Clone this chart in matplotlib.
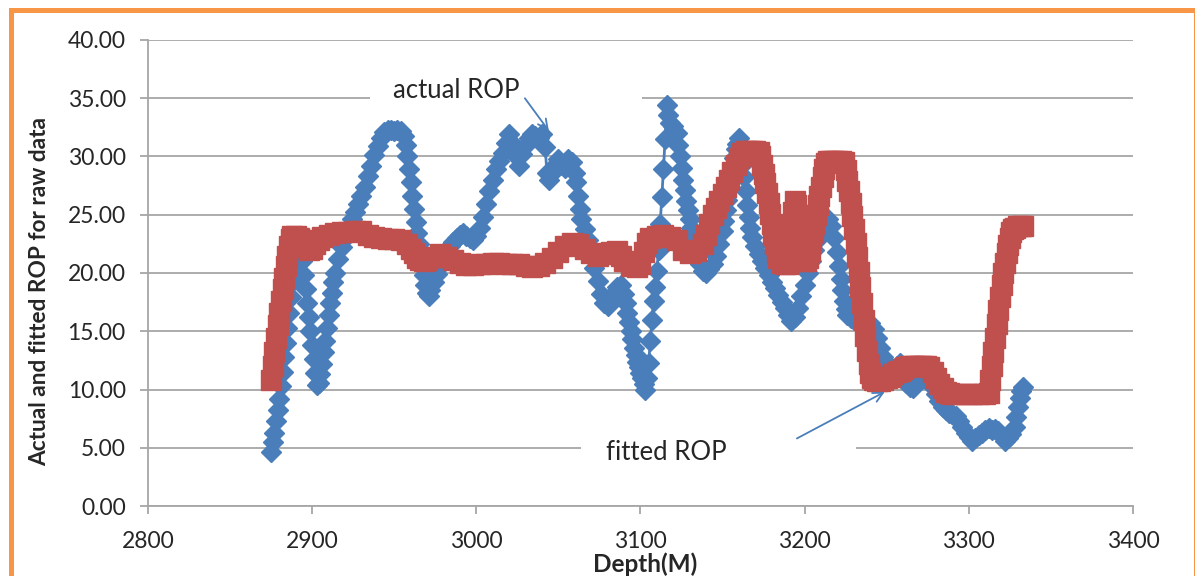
import matplotlib.pyplot as plt
from matplotlib.patches import Rectangle

plt.rcParams['font.family'] = ['Lato', 'DejaVu Sans']

# (depth in m, rate of penetration) read along the logged interval
actual_rop = [
    (2875, 4.6), (2876, 5.5), (2877, 6.3), (2878, 7.3), (2879, 8.2), (2880, 9.2),
    (2881, 10.3), (2882, 11.5), (2883, 12.8), (2884, 14.0), (2885, 15.3), (2886, 16.6),
    (2887, 17.9), (2888, 19.2), (2889, 20.5), (2890, 21.6), (2891, 22.5), (2892, 22.8),
    (2893, 22.3), (2894, 21.0), (2895, 19.8), (2896, 18.6), (2897, 17.4), (2898, 16.2),
    (2899, 15.0), (2900, 13.8), (2901, 12.6), (2902, 11.4), (2903, 10.4), (2904, 10.6),
    (2905, 11.3), (2906, 12.2), (2907, 13.2), (2908, 14.2), (2909, 15.3), (2910, 16.4),
    (2911, 17.4), (2912, 18.3), (2913, 19.2), (2914, 20.0), (2916, 21.2), (2918, 22.2),
    (2920, 23.0), (2922, 23.8), (2924, 24.6), (2926, 25.2), (2928, 25.9), (2930, 26.6),
    (2932, 27.4), (2934, 28.3), (2936, 29.2), (2938, 30.1), (2940, 30.9), (2942, 31.6),
    (2944, 32.1), (2946, 32.3), (2948, 32.3), (2950, 32.2), (2952, 32.3), (2954, 32.2),
    (2956, 31.8), (2957, 31.0), (2958, 30.0), (2959, 28.9), (2960, 27.8), (2961, 26.6),
    (2962, 25.5), (2963, 24.4), (2964, 23.4), (2965, 22.5), (2966, 21.6), (2967, 20.7),
    (2968, 19.8), (2969, 19.0), (2970, 18.3), (2971, 18.0), (2972, 18.5), (2974, 19.2),
    (2976, 19.9), (2978, 20.6), (2980, 21.2), (2982, 21.8), (2984, 22.3), (2986, 22.7),
    (2988, 23.0), (2990, 23.3), (2992, 23.4), (2994, 23.2), (2996, 23.0), (2998, 22.8),
    (3000, 23.2), (3002, 23.9), (3004, 24.8), (3006, 25.9), (3008, 27.0), (3010, 28.0),
    (3012, 28.9), (3014, 29.6), (3016, 30.3), (3018, 31.2), (3020, 31.9), (3022, 31.2),
    (3024, 30.0), (3026, 29.2), (3028, 30.2), (3030, 31.0), (3032, 31.6), (3034, 31.9),
    (3036, 31.8), (3038, 31.6), (3040, 31.9), (3042, 30.8), (3043, 28.6), (3044, 28.0),
    (3046, 28.6), (3048, 29.3), (3050, 29.8), (3052, 29.3), (3054, 29.0), (3056, 29.8),
    (3058, 29.5), (3060, 28.6), (3061, 27.8), (3062, 26.6), (3063, 25.5), (3064, 24.6),
    (3066, 23.8), (3068, 22.8), (3070, 21.6), (3072, 20.4), (3074, 19.3), (3076, 18.2),
    (3078, 17.4), (3080, 17.2), (3082, 17.8), (3084, 18.3), (3086, 18.8), (3088, 19.0),
    (3090, 18.2), (3091, 17.4), (3092, 16.6), (3093, 15.8), (3094, 15.0), (3095, 14.3),
    (3096, 13.6), (3097, 13.0), (3098, 12.4), (3099, 11.9), (3100, 11.4), (3101, 11.0),
    (3102, 10.5), (3103, 10.0), (3104, 11.0), (3105, 12.3), (3106, 14.2), (3107, 16.0),
    (3108, 17.6), (3109, 18.8), (3110, 20.2), (3111, 22.0), (3112, 24.2), (3113, 26.5),
    (3114, 28.9), (3115, 31.5), (3116, 34.4), (3117, 33.6), (3118, 32.9), (3120, 32.6),
    (3122, 32.0), (3123, 31.0), (3124, 30.0), (3125, 29.0), (3126, 28.0), (3127, 27.1),
    (3128, 26.2), (3129, 25.4), (3130, 24.6), (3131, 23.9), (3132, 23.2), (3133, 22.4),
    (3134, 21.7), (3136, 20.8), (3138, 20.2), (3140, 20.0), (3142, 20.3), (3144, 20.8),
    (3146, 21.5), (3148, 22.5), (3150, 23.6), (3151, 24.5), (3152, 25.4), (3153, 26.3),
    (3154, 27.2), (3155, 28.1), (3156, 29.0), (3157, 29.9), (3158, 30.6), (3159, 31.1),
    (3160, 31.6), (3161, 30.4), (3162, 29.3), (3163, 28.2), (3164, 27.0), (3165, 25.8),
    (3166, 24.8), (3167, 23.9), (3168, 23.1), (3170, 22.3), (3172, 21.6), (3174, 21.0),
    (3176, 20.4), (3178, 19.8), (3180, 19.2), (3182, 18.7), (3184, 18.1), (3186, 17.5),
    (3188, 17.0), (3190, 16.4), (3192, 15.9), (3194, 16.2), (3196, 17.0), (3198, 18.0),
    (3200, 19.0), (3202, 20.0), (3204, 21.0), (3206, 22.0), (3208, 22.9), (3210, 23.6),
    (3212, 24.2), (3214, 24.6), (3216, 24.0), (3218, 23.0), (3220, 21.8), (3221, 20.6),
    (3222, 19.5), (3223, 18.5), (3224, 17.6), (3225, 16.9), (3226, 16.4), (3228, 16.1),
    (3230, 16.0), (3232, 16.0), (3234, 15.8), (3236, 15.6), (3238, 15.5), (3240, 15.7),
    (3242, 15.2), (3244, 14.4), (3246, 13.6), (3248, 12.8), (3250, 12.2), (3252, 11.8),
    (3254, 11.6), (3256, 12.0), (3258, 12.3), (3260, 11.4), (3262, 10.6), (3264, 10.2),
    (3266, 10.1), (3268, 10.6), (3270, 11.0), (3272, 11.4), (3274, 11.3), (3276, 10.8),
    (3278, 10.2), (3280, 9.6), (3282, 9.0), (3284, 8.5), (3286, 8.2), (3288, 8.0),
    (3290, 7.9), (3292, 7.7), (3294, 7.3), (3296, 6.8), (3298, 6.3), (3300, 5.9),
    (3302, 5.6), (3304, 5.8), (3306, 6.1), (3308, 6.3), (3310, 6.5), (3312, 6.7),
    (3314, 6.5), (3316, 6.6), (3318, 6.4), (3320, 6.0), (3322, 5.6), (3324, 5.8),
    (3326, 6.2), (3328, 6.8), (3329, 7.6), (3330, 8.5), (3331, 9.3), (3332, 9.9),
    (3333, 10.2),
]

fitted_rop = [
    (2875, 10.8), (2876, 12.0), (2877, 13.2), (2878, 14.4), (2879, 15.5), (2880, 16.6),
    (2881, 17.6), (2882, 18.6), (2883, 19.6), (2884, 20.6), (2885, 21.5), (2886, 22.3),
    (2887, 22.9), (2888, 23.2), (2890, 23.2), (2892, 23.0), (2894, 22.6), (2896, 22.2),
    (2898, 22.0), (2900, 22.1), (2902, 22.5), (2904, 22.8), (2906, 23.1), (2910, 23.3),
    (2914, 23.4), (2918, 23.5), (2922, 23.5), (2926, 23.6), (2930, 23.6), (2934, 23.3),
    (2938, 23.1), (2942, 23.0), (2946, 22.9), (2950, 22.9), (2954, 22.8), (2958, 22.5),
    (2960, 22.1), (2962, 21.7), (2964, 21.3), (2966, 21.1), (2968, 21.0), (2970, 21.1),
    (2974, 21.4), (2978, 21.6), (2982, 21.4), (2986, 21.1), (2990, 20.9), (2994, 20.7),
    (2998, 20.7), (3002, 20.8), (3006, 20.8), (3010, 20.9), (3014, 20.9), (3018, 20.8),
    (3022, 20.8), (3026, 20.8), (3030, 20.6), (3034, 20.5), (3038, 20.6), (3042, 20.9),
    (3046, 21.3), (3050, 21.8), (3054, 22.3), (3058, 22.6), (3062, 22.5), (3066, 22.1),
    (3070, 21.7), (3074, 21.5), (3078, 21.6), (3082, 21.8), (3086, 21.9), (3088, 21.5),
    (3090, 21.0), (3094, 20.6), (3098, 20.5), (3100, 20.8), (3102, 21.8), (3104, 22.6),
    (3106, 23.0), (3110, 23.2), (3114, 23.3), (3118, 23.1), (3122, 22.8), (3126, 22.0),
    (3130, 21.7), (3134, 21.9), (3138, 22.5), (3140, 23.3), (3142, 24.2), (3144, 25.0),
    (3146, 25.6), (3148, 26.2), (3150, 26.8), (3152, 27.4), (3154, 28.0), (3156, 28.7),
    (3158, 29.3), (3160, 29.9), (3162, 30.3), (3164, 30.5), (3166, 30.5), (3168, 30.5),
    (3170, 30.5), (3172, 30.4), (3173, 30.0), (3174, 29.3), (3175, 28.5), (3176, 27.7),
    (3177, 26.9), (3178, 26.0), (3179, 25.1), (3180, 24.2), (3181, 23.3), (3182, 22.5),
    (3183, 21.8), (3184, 21.3), (3186, 20.9), (3188, 20.8), (3190, 20.8), (3191, 22.2),
    (3192, 23.8), (3193, 25.2), (3194, 26.2), (3195, 25.8), (3196, 25.0), (3197, 24.0),
    (3198, 22.8), (3199, 21.8), (3200, 21.0), (3201, 21.0), (3202, 21.3), (3203, 21.9),
    (3204, 22.6), (3205, 23.4), (3206, 24.2), (3207, 25.0), (3208, 25.8), (3209, 26.6),
    (3210, 27.4), (3211, 28.2), (3212, 28.9), (3213, 29.4), (3214, 29.6), (3216, 29.6),
    (3218, 29.6), (3220, 29.6), (3222, 29.6), (3224, 29.5), (3225, 28.8), (3226, 27.9),
    (3227, 27.0), (3228, 26.0), (3229, 24.9), (3230, 23.8), (3231, 22.6), (3232, 21.4),
    (3233, 20.1), (3234, 18.8), (3235, 17.4), (3236, 16.0), (3237, 14.6), (3238, 13.3),
    (3239, 12.2), (3240, 11.4), (3241, 11.0), (3242, 10.8), (3244, 10.7), (3246, 10.7),
    (3248, 10.8), (3250, 11.0), (3252, 11.1), (3254, 11.3), (3256, 11.5), (3258, 11.6),
    (3260, 11.8), (3262, 11.9), (3264, 12.0), (3266, 12.0), (3268, 12.0), (3270, 12.0),
    (3272, 12.0), (3274, 12.0), (3276, 11.9), (3278, 11.5), (3280, 11.0), (3282, 10.5),
    (3284, 10.1), (3286, 9.8), (3288, 9.7), (3290, 9.6), (3294, 9.6), (3298, 9.6),
    (3302, 9.6), (3306, 9.6), (3310, 9.6), (3312, 9.7), (3313, 10.8), (3314, 12.0),
    (3315, 13.2), (3316, 14.4), (3317, 15.6), (3318, 16.8), (3319, 17.9), (3320, 19.0),
    (3321, 20.0), (3322, 20.9), (3323, 21.7), (3324, 22.4), (3325, 23.0), (3326, 23.5),
    (3327, 23.8), (3328, 23.9), (3330, 24.0), (3332, 24.0), (3333, 24.0),
]

x_ticks = [2800, 2900, 3000, 3100, 3200, 3300, 3400]
y_ticks = [0, 5, 10, 15, 20, 25, 30, 35, 40]

BLUE = '#4A7EBB'
RED = '#C0504D'
GRID = '#A6A6A6'
TEXT = '#262626'

depth_a, rop_a = zip(*actual_rop)
depth_f, rop_f = zip(*fitted_rop)

fig = plt.figure(figsize=(11.95, 5.76), dpi=100)
ax = fig.add_axes([0.1238, 0.1215, 0.8243, 0.8091])

ax.plot(depth_a, rop_a, color=BLUE, lw=2, marker='D', ms=10.5,
        mfc=BLUE, mec=BLUE, zorder=2)
ax.plot(depth_f, rop_f, color=RED, lw=2, marker='s', ms=14.5,
        mfc=RED, mec=RED, zorder=3)

ax.set_xlim(2800, 3400)
ax.set_ylim(0, 40)
ax.set_xticks(x_ticks)
ax.set_yticks(y_ticks)
ax.set_yticklabels([f'{v:.2f}' for v in y_ticks])

ax.set_axisbelow(True)
ax.yaxis.grid(True, color=GRID, lw=1.3)
for side in ('top', 'right'):
    ax.spines[side].set_visible(False)
for side in ('left', 'bottom'):
    ax.spines[side].set_color(GRID)
    ax.spines[side].set_linewidth(1.3)
ax.tick_params(axis='both', direction='out', length=6, width=1.3, color=GRID,
               labelsize=16.5, labelcolor=TEXT)
ax.tick_params(axis='y', pad=10)
ax.tick_params(axis='x', pad=12)

ax.set_ylabel('Actual and fitted ROP for raw data', fontsize=16.3,
              fontweight='bold', color=TEXT)
ax.yaxis.label.set_va('center')
ax.yaxis.set_label_coords(-0.1096, 0.46)
ax.set_xlabel('Depth(M)', fontsize=17.5, fontweight='bold', color=TEXT)
ax.xaxis.set_label_coords(0.505, -0.125)
ax.xaxis.label.set_va('center')

# text boxes for the series callouts (white fill hides the grid behind)
ax.add_patch(Rectangle((2935, 33.6), 166, 3.0, facecolor='white',
                       edgecolor='none', zorder=1))
ax.add_patch(Rectangle((3064, 3.4), 167, 3.0, facecolor='white',
                       edgecolor='none', zorder=1))
ax.text(2987.6, 35.7, 'actual ROP', ha='center', va='center',
        fontsize=18.5, color=TEXT, zorder=4)
ax.text(3115.5, 4.6, 'fitted ROP', ha='center', va='center',
        fontsize=18.5, color=TEXT, zorder=4)

arrow = dict(arrowstyle='->,head_length=0.7,head_width=0.35', color=BLUE,
             lw=1.3, shrinkA=0, shrinkB=0)
ax.annotate('', xy=(3044.2, 32.2), xytext=(3029.6, 35.0), arrowprops=arrow,
            zorder=5)
ax.annotate('', xy=(3248.8, 9.8), xytext=(3195.3, 5.8), arrowprops=arrow,
            zorder=5)

# orange frame around the chart area
fig.patches.append(Rectangle((10.5 / 1195, -0.1), (1195.5 - 10.5) / 1195,
                             0.1 + (576 - 10) / 576, transform=fig.transFigure,
                             fill=False, edgecolor='#F79646', lw=3.6,
                             clip_on=False))

fig.savefig('out.png', dpi=100)
